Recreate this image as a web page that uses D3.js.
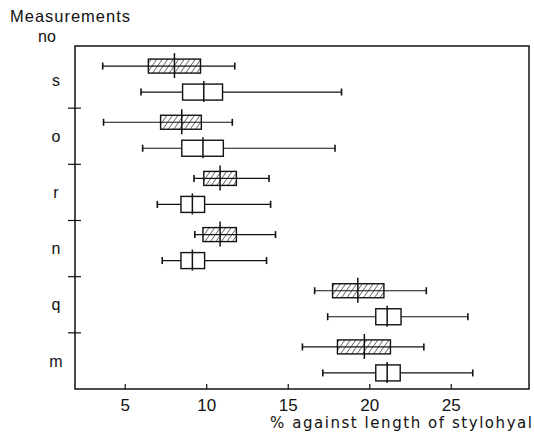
<!DOCTYPE html>
<html>
<head>
<meta charset="utf-8">
<script src="https://cdn.jsdelivr.net/npm/d3@7"></script>
<style>
  body { margin: 0; background: #fff; }
  text { fill: #111; }
</style>
</head>
<body>
<svg id="chart"></svg>
<script>
// measurement groups, top to bottom; each has a hatched and an open box
const groups = ['s', 'o', 'r', 'n', 'q', 'm'];
const kinds = ['hatched', 'open'];
// whisker low, box low, median, box high, whisker high (% of stylohyal length)
const lowWhisker = [3.65, 6.0, 3.7, 6.1, 9.25, 7.0, 9.3, 7.3, 16.65, 17.45, 15.9, 17.15];
const boxLow = [6.45, 8.55, 7.2, 8.5, 9.85, 8.45, 9.8, 8.45, 17.75, 20.4, 18.05, 20.4];
const medians = [8.05, 9.85, 8.5, 9.8, 10.85, 9.15, 10.85, 9.15, 19.3, 21.1, 19.7, 21.1];
const boxHigh = [9.65, 11.0, 9.7, 11.05, 11.85, 9.9, 11.85, 9.9, 20.9, 21.95, 21.3, 21.9];
const highWhisker = [11.75, 18.3, 11.6, 17.9, 13.85, 13.95, 14.25, 13.7, 23.5, 26.05, 23.35, 26.35];
const xTicks = [5, 10, 15, 20, 25];

const width = 534, height = 433;
const margin = { top: 46, right: 5, bottom: 44, left: 75 };

const svg = d3.select('#chart')
    .attr('width', width)
    .attr('height', height);

const x = d3.scaleLinear()
    .domain([1.95, 29.8])
    .range([margin.left, width - margin.right]);

const y = d3.scaleBand()
    .domain(groups)
    .range([margin.top + 6, height - margin.bottom])
    .paddingInner(0)
    .paddingOuter(0);

// position of the two boxes inside one group band
const sub = d3.scalePoint()
    .domain(kinds)
    .range([-14, 12]);

const defs = svg.append('defs');
defs.append('pattern')
    .attr('id', 'hatch')
    .attr('patternUnits', 'userSpaceOnUse')
    .attr('width', 4.5)
    .attr('height', 4.5)
    .attr('patternTransform', 'rotate(35)')
    .append('line')
    .attr('x1', 0).attr('y1', 0)
    .attr('x2', 0).attr('y2', 4.5)
    .style('stroke', '#222')
    .style('stroke-width', 1.2);

const rows = [];
groups.forEach((g, gi) => {
    kinds.forEach((k, ki) => {
        const i = gi * 2 + ki;
        rows.push({
            group: g,
            kind: k,
            lo: lowWhisker[i],
            q1: boxLow[i],
            med: medians[i],
            q3: boxHigh[i],
            hi: highWhisker[i],
        });
    });
});

const cy = (d) => y(d.group) + y.bandwidth() / 2 + sub(d.kind);

// frame
svg.append('rect')
    .attr('x', margin.left)
    .attr('y', margin.top)
    .attr('width', width - margin.right - margin.left)
    .attr('height', height - margin.bottom - margin.top)
    .style('fill', 'none')
    .style('stroke', '#111')
    .style('stroke-width', 1.5);

// x axis: inner ticks and labels
const xAxis = d3.axisBottom(x)
    .tickValues(xTicks)
    .tickSizeInner(-5)
    .tickSizeOuter(0)
    .tickPadding(10);

const gx = svg.append('g')
    .attr('transform', `translate(0,${height - margin.bottom})`)
    .call(xAxis);
gx.select('.domain').remove();
gx.selectAll('line').style('stroke', '#111').style('stroke-width', 1.2);
gx.selectAll('text')
    .style('font-family', 'Liberation Sans, Arial, sans-serif')
    .style('font-size', '17px')
    .style('fill', '#111');

// y axis: group separators as crossing ticks, labels in the middle
const seps = groups.slice(1).map((g) => y(g));
svg.selectAll('line.sep')
    .data(seps)
    .enter()
    .append('line')
    .attr('class', 'sep')
    .attr('x1', margin.left - 7)
    .attr('x2', margin.left + 6)
    .attr('y1', (d) => d)
    .attr('y2', (d) => d)
    .style('stroke', '#111')
    .style('stroke-width', 1.2);

svg.selectAll('text.cat')
    .data(groups)
    .enter()
    .append('text')
    .attr('class', 'cat')
    .attr('x', 56)
    .attr('y', (d) => y(d) + y.bandwidth() / 2)
    .attr('dy', '0.35em')
    .attr('text-anchor', 'middle')
    .style('font-family', 'Liberation Sans, Arial, sans-serif')
    .style('font-size', '16px')
    .text((d) => d);

// boxes
const box = svg.selectAll('g.box')
    .data(rows)
    .enter()
    .append('g')
    .attr('class', 'box');

box.append('line')
    .attr('x1', (d) => x(d.lo))
    .attr('x2', (d) => x(d.hi))
    .attr('y1', cy)
    .attr('y2', cy)
    .style('stroke', '#111')
    .style('stroke-width', 1.2);

box.selectAll('line.cap')
    .data((d) => [d.lo, d.hi].map((v) => ({ v: v, row: d })))
    .enter()
    .append('line')
    .attr('class', 'cap')
    .attr('x1', (d) => x(d.v))
    .attr('x2', (d) => x(d.v))
    .attr('y1', (d) => cy(d.row) - 3.5)
    .attr('y2', (d) => cy(d.row) + 3.5)
    .style('stroke', '#111')
    .style('stroke-width', 1.6);

box.append('rect')
    .attr('x', (d) => x(d.q1))
    .attr('width', (d) => x(d.q3) - x(d.q1))
    .attr('y', (d) => cy(d) - (d.kind === 'hatched' ? 7 : 8))
    .attr('height', (d) => (d.kind === 'hatched' ? 14 : 16))
    .style('fill', (d) => (d.kind === 'hatched' ? 'url(#hatch)' : '#fff'))
    .style('stroke', '#111')
    .style('stroke-width', 1.4);

box.append('line')
    .attr('x1', (d) => x(d.med))
    .attr('x2', (d) => x(d.med))
    .attr('y1', (d) => cy(d) - (d.kind === 'hatched' ? 13 : 11))
    .attr('y2', (d) => cy(d) + (d.kind === 'hatched' ? 12 : 10))
    .style('stroke', '#111')
    .style('stroke-width', 1.5);

// titles
svg.append('text')
    .attr('x', 10)
    .attr('y', 22)
    .attr('textLength', 120)
    .style('font-family', 'Liberation Sans, Arial, sans-serif')
    .style('font-size', '16.5px')
    .text('Measurements');

svg.append('text')
    .attr('x', 38)
    .attr('y', 42)
    .style('font-family', 'Liberation Sans, Arial, sans-serif')
    .style('font-size', '16px')
    .text('no');

svg.append('text')
    .attr('x', 270)
    .attr('y', 428)
    .attr('textLength', 262)
    .style('font-family', 'DejaVu Sans, sans-serif')
    .style('font-size', '15px')
    .text('% against length of stylohyal');
</script>
</body>
</html>
